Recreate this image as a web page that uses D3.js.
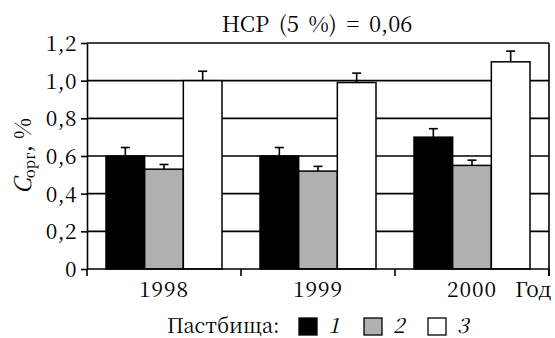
<!DOCTYPE html>
<html><head><meta charset="utf-8">
<script src="https://cdn.jsdelivr.net/npm/d3@7"></script>
<style>body{margin:0;background:#fff}svg{display:block}</style>
</head><body><svg id="c" width="555" height="338"></svg>
<script>
const years = ["1998","1999","2000"];
const pastures = ["1","2","3"];
const values = {"1":[0.60,0.60,0.70],"2":[0.53,0.52,0.55],"3":[1.00,0.99,1.10]};
const errors = {"1":[0.045,0.045,0.045],"2":[0.025,0.025,0.028],"3":[0.05,0.05,0.057]};
const colors = ["#000000","#b0b0b0","#ffffff"];
const yTicks = [0,0.2,0.4,0.6,0.8,1.0,1.2];
const title = "НСР (5 %) = 0,06";
const FF = "Noto Serif CJK SC";

const svg = d3.select("#c");
const L=87,R=549,T=43,B=269;
const x0 = d3.scaleBand().domain(years).range([L,R]).padding(0);
const x1 = d3.scaleBand().domain(pastures).range([19,135]).padding(0);
const y = d3.scaleLinear().domain([0,1.2]).range([B,T]);
const fmt = v => v===0 ? "0" : d3.format(".1f")(v).replace(".",",");
const txt = (sel,size) => sel.attr("font-family",FF).attr("font-size",size).attr("fill","#000");

svg.append("g").selectAll("line").data(yTicks.filter(d=>d>0)).join("line")
 .attr("x1",L).attr("x2",R).attr("y1",d=>y(d)).attr("y2",d=>y(d))
 .attr("stroke","#000").attr("stroke-width",1.6);
svg.append("line").attr("x1",R).attr("x2",R).attr("y1",T).attr("y2",B+7).attr("stroke","#000").attr("stroke-width",1.6);

const data=[];
years.forEach((yr,i)=>pastures.forEach((p,j)=>data.push({yr,p,j,v:values[p][i],e:errors[p][i]})));
svg.append("g").selectAll("rect").data(data).join("rect")
 .attr("x",d=>x0(d.yr)+x1(d.p)).attr("width",x1.bandwidth())
 .attr("y",d=>y(d.v)).attr("height",d=>B-y(d.v))
 .attr("fill",d=>colors[d.j]).attr("stroke","#000").attr("stroke-width",1.5);
const eb=svg.append("g").attr("stroke","#000").attr("stroke-width",1.6);
data.forEach(d=>{
  const cx=x0(d.yr)+x1(d.p)+x1.bandwidth()/2;
  eb.append("line").attr("x1",cx).attr("x2",cx).attr("y1",y(d.v)).attr("y2",y(d.v+d.e));
  eb.append("line").attr("x1",cx-4.5).attr("x2",cx+4.5).attr("y1",y(d.v+d.e)).attr("y2",y(d.v+d.e));
});

const ya=svg.append("g").attr("transform",`translate(${L},0)`)
 .call(d3.axisLeft(y).tickValues(yTicks).tickFormat(fmt).tickSize(6).tickSizeOuter(0));
ya.select(".domain").attr("stroke-width",1.6);
ya.selectAll(".tick line").attr("stroke-width",1.6);
txt(ya.selectAll("text"),21).attr("x",-10).attr("dy","0.36em").attr("letter-spacing",0.4);

const xa=svg.append("g").attr("transform",`translate(0,${B})`);
xa.append("line").attr("x1",L).attr("x2",R).attr("stroke","#000").attr("stroke-width",1.6);
xa.selectAll(".bt").data(years.map(d=>x0(d)).concat([R])).join("line")
 .attr("x1",d=>d).attr("x2",d=>d).attr("y1",0).attr("y2",7).attr("stroke","#000").attr("stroke-width",1.6);
txt(xa.selectAll("text").data(years).join("text"),21)
 .attr("x",d=>x0(d)+x0.bandwidth()/2).attr("y",28).attr("text-anchor","middle").attr("letter-spacing",1).text(d=>d);
txt(svg.append("text"),21).attr("x",515).attr("y",297).text("Год");

txt(svg.append("text"),22).attr("x",317).attr("y",32).attr("text-anchor","middle").attr("word-spacing",4).text(title);

const yl=txt(svg.append("text"),23).attr("transform","translate(31,156) rotate(-90)").attr("text-anchor","middle");
yl.append("tspan").attr("font-style","italic").text("C");
yl.append("tspan").attr("font-size",15).attr("dy",4).text("орг");
yl.append("tspan").attr("dy",-4).text(", %");

txt(svg.append("text"),20).attr("x",167).attr("y",333).text("Пастбища:");
const lx=[299,364,428];
pastures.forEach((p,j)=>{
  svg.append("rect").attr("x",lx[j]).attr("y",318).attr("width",18).attr("height",17)
   .attr("fill",colors[j]).attr("stroke","#000").attr("stroke-width",1.3);
  txt(svg.append("text"),21).attr("x",lx[j]+29).attr("y",333).attr("font-style","italic").text(p);
});
</script></body></html>
